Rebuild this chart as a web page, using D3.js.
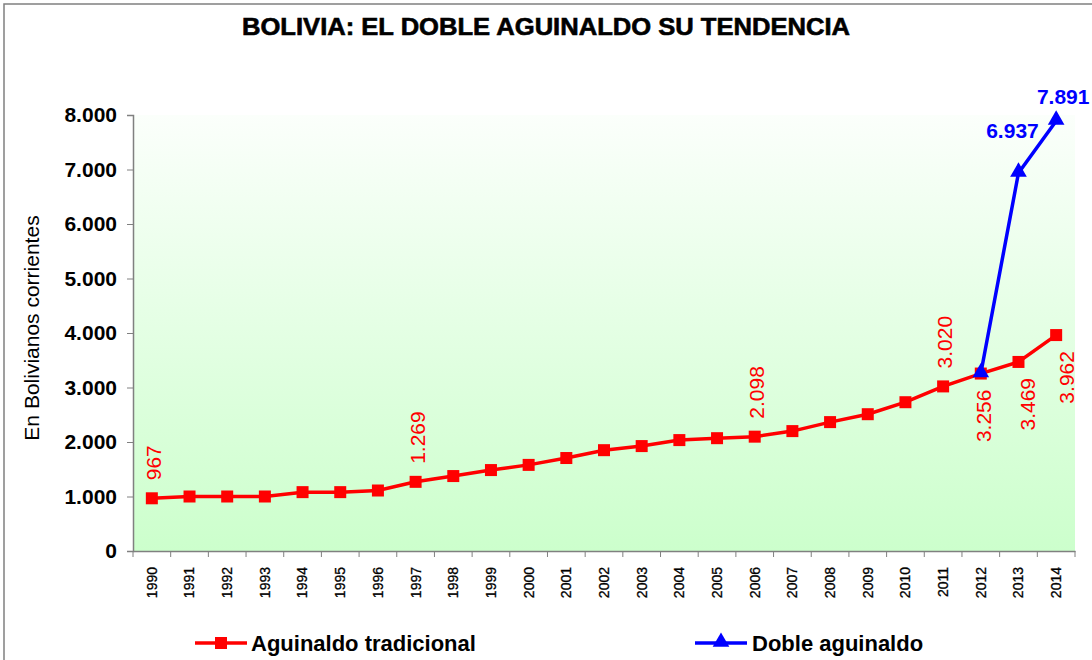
<!DOCTYPE html>
<html>
<head>
<meta charset="utf-8">
<script src="https://cdn.jsdelivr.net/npm/d3@7"></script>
<style>
  body { margin: 0; background: #fff; }
  svg { display: block; font-family: "Liberation Sans", Arial, sans-serif; }
</style>
</head>
<body>
<svg width="1092" height="660"></svg>
<script>
// data
var years = ["1990","1991","1992","1993","1994","1995","1996","1997","1998","1999","2000","2001","2002",
             "2003","2004","2005","2006","2007","2008","2009","2010","2011","2012","2013","2014"];
var tradicional = [967,1000,1000,1000,1080,1080,1110,1269,1375,1485,1580,1706,1850,
                   1925,2035,2070,2098,2200,2365,2510,2730,3020,3256,3469,3962];
var dobleYears = ["2012","2013","2014"];
var doble = [3256,6937,7891];
var yTicks = [0,1000,2000,3000,4000,5000,6000,7000,8000];
var labelsAbove = ["1990","1997","2006","2011"];
var labelsBelow = ["2012","2013","2014"];

var svg = d3.select("svg");
var pLeft = 133, pRight = 1075, pTop = 115, pBottom = 551;

var loc = d3.formatLocale({decimal: ",", thousands: ".", grouping: [3], currency: ["", ""]});
var fmt = loc.format(",d");

var x = d3.scaleBand().domain(years).range([pLeft, pRight]).padding(0);
var y = d3.scaleLinear().domain([0, 8000]).range([pBottom, pTop]);
function cx(d) { return x(d) + x.bandwidth() / 2; }

// frame
svg.append("rect").attr("x", 4).attr("y", 4).attr("width", 1100).attr("height", 680)
  .attr("fill", "none").attr("stroke", "#808080").attr("stroke-width", 1.5);

// plot background gradient
var grad = svg.append("defs").append("linearGradient").attr("id", "bg")
  .attr("x1", 0).attr("y1", 0).attr("x2", 0).attr("y2", 1);
grad.append("stop").attr("offset", "0%").attr("stop-color", "#fbfffb");
grad.append("stop").attr("offset", "100%").attr("stop-color", "#ccffcc");
svg.append("rect").attr("x", pLeft).attr("y", pTop).attr("width", pRight - pLeft).attr("height", pBottom - pTop)
  .attr("fill", "url(#bg)");

// title
svg.append("text").attr("x", 546).attr("y", 35).attr("text-anchor", "middle")
  .attr("font-size", 24).attr("font-weight", "bold").attr("textLength", 608)
  .attr("lengthAdjust", "spacingAndGlyphs").attr("stroke", "#000").attr("stroke-width", 0.6)
  .text("BOLIVIA: EL DOBLE AGUINALDO SU TENDENCIA");

// y axis
var yAxis = svg.append("g").attr("transform", "translate(" + pLeft + ",0)")
  .call(d3.axisLeft(y).tickValues(yTicks).tickSize(6).tickPadding(10).tickFormat(fmt));
yAxis.select(".domain").attr("stroke", "#808080").attr("stroke-width", 1.5);
yAxis.selectAll(".tick line").attr("stroke", "#808080");
yAxis.selectAll("text").attr("font-size", 21).attr("font-weight", "bold").attr("fill", "#000")
  .attr("font-family", "Liberation Sans, Arial, sans-serif");

svg.append("text").attr("transform", "translate(39,328) rotate(-90)").attr("text-anchor", "middle")
  .attr("font-size", 21).text("En Bolivianos corrientes");

// x axis
var xAxis = svg.append("g").attr("transform", "translate(0," + pBottom + ")")
  .call(d3.axisBottom(x).tickSize(0).tickFormat(function(d) { return d; }));
xAxis.select(".domain").attr("stroke", "#808080").attr("stroke-width", 1.5);
xAxis.selectAll(".tick text")
  .attr("transform", "translate(0,16) rotate(-90)")
  .attr("x", 0).attr("y", 0).attr("dy", "0.35em")
  .attr("text-anchor", "end").attr("font-size", 14).attr("stroke", "#000").attr("stroke-width", 0.3)
  .attr("font-family", "Liberation Sans Narrow, Arial Narrow, sans-serif").attr("fill", "#000");
xAxis.selectAll(".boundary").data(years.concat(["end"])).enter().append("line")
  .attr("x1", function(d, i) { return pLeft + i * x.bandwidth(); })
  .attr("x2", function(d, i) { return pLeft + i * x.bandwidth(); })
  .attr("y1", 0).attr("y2", 6).attr("stroke", "#808080");

// lines
var lineT = d3.line().x(function(d, i) { return cx(years[i]); }).y(function(d) { return y(d); });
svg.append("path").datum(tradicional).attr("d", lineT)
  .attr("fill", "none").attr("stroke", "#ff0000").attr("stroke-width", 3.5);
svg.selectAll(".sq").data(tradicional).enter().append("rect")
  .attr("x", function(d, i) { return cx(years[i]) - 6; })
  .attr("y", function(d) { return y(d) - 6; })
  .attr("width", 12).attr("height", 12).attr("fill", "#ff0000");

var lineD = d3.line().x(function(d, i) { return cx(dobleYears[i]); }).y(function(d) { return y(d); });
svg.append("path").datum(doble).attr("d", lineD)
  .attr("fill", "none").attr("stroke", "#0000ff").attr("stroke-width", 3.5);
var tri = d3.symbol().type(d3.symbolTriangle).size(120);
svg.selectAll(".tri").data(doble).enter().append("path")
  .attr("d", tri)
  .attr("transform", function(d, i) { return "translate(" + cx(dobleYears[i]) + "," + (y(d) - 1) + ")"; })
  .attr("fill", "#0000ff");

// red data labels
var nudge = {"2013": 9, "2014": 10, "2012": 3};
labelsAbove.forEach(function(yr) {
  var v = tradicional[years.indexOf(yr)];
  svg.append("text")
    .attr("transform", "translate(" + (cx(yr) + 2) + "," + (y(v) - 18) + ") rotate(-90)")
    .attr("dy", "0.35em").attr("text-anchor", "start")
    .attr("font-size", 21).attr("fill", "#ff0000").text(fmt(v));
});
labelsBelow.forEach(function(yr) {
  var v = tradicional[years.indexOf(yr)];
  svg.append("text")
    .attr("transform", "translate(" + (cx(yr) + nudge[yr]) + "," + (y(v) + 16) + ") rotate(-90)")
    .attr("dy", "0.35em").attr("text-anchor", "end")
    .attr("font-size", 21).attr("fill", "#ff0000").text(fmt(v));
});

// blue data labels
svg.append("text").attr("x", cx("2013") - 6).attr("y", y(doble[1]) - 35)
  .attr("text-anchor", "middle").attr("font-size", 21).attr("font-weight", "bold")
  .attr("fill", "#0000ff").text(fmt(doble[1]));
svg.append("text").attr("x", cx("2014") + 7).attr("y", y(doble[2]) - 17)
  .attr("text-anchor", "middle").attr("font-size", 21).attr("font-weight", "bold")
  .attr("fill", "#0000ff").text(fmt(doble[2]));

// legend
var lg = svg.append("g");
lg.append("line").attr("x1", 195).attr("x2", 247).attr("y1", 643).attr("y2", 643)
  .attr("stroke", "#ff0000").attr("stroke-width", 3.5);
lg.append("rect").attr("x", 215).attr("y", 637).attr("width", 12).attr("height", 12).attr("fill", "#ff0000");
lg.append("text").attr("x", 251).attr("y", 651).attr("font-size", 22).attr("font-weight", "bold")
  .text("Aguinaldo tradicional");
lg.append("line").attr("x1", 695).attr("x2", 747).attr("y1", 643).attr("y2", 643)
  .attr("stroke", "#0000ff").attr("stroke-width", 3.5);
lg.append("path").attr("d", tri).attr("transform", "translate(721,642)").attr("fill", "#0000ff");
lg.append("text").attr("x", 752).attr("y", 651).attr("font-size", 22).attr("font-weight", "bold")
  .text("Doble aguinaldo");
</script>
</body>
</html>
